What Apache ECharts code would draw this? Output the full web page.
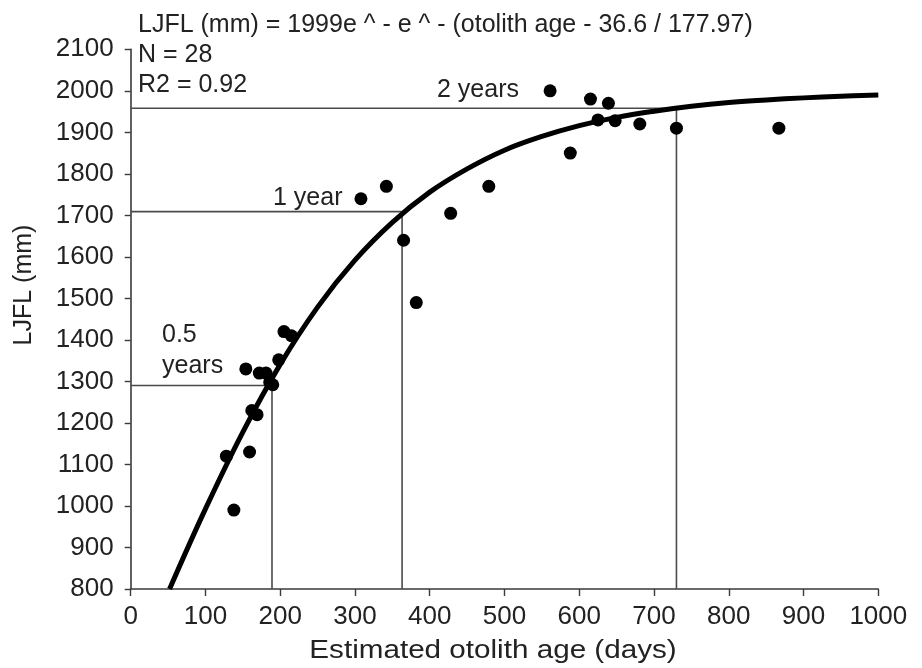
<!DOCTYPE html>
<html><head><meta charset="utf-8">
<script src="https://cdn.jsdelivr.net/npm/echarts@6/dist/echarts.min.js"></script>
<style>html,body{margin:0;padding:0;background:#fff}#c{width:922px;height:668px}</style>
</head><body><div id="c"></div>
<script>
// Observed points: estimated otolith age (days) vs LJFL (mm)
const ageDays = [138,128,159,162,169,154,172,181,190,186,198,205,215,308,342,365,382,428,479,561,588,615,639,625,648,681,730,867];
const ljfl    = [990,1120,1130,1230,1220,1330,1320,1320,1292,1298,1352,1420,1410,1740,1770,1640,1490,1705,1770,2000,1850,1980,1970,1930,1928,1920,1910,1910];
// Fitted curve
const curveAge = [52,100,150,200,250,300,350,400,450,500,550,600,650,700,750,800,850,900,950,1000];
const curveLen = [800,993,1178,1341,1479,1592,1683,1756,1812,1857,1890,1916,1936,1951,1963,1972,1978,1983,1987,1990];
// Reference (age markers) lines
const halfYear = [[0,1290],[189,1290],[189,800]];
const oneYear  = [[0,1709],[363,1709],[363,800]];
const twoYears = [[0,1958],[730,1958],[730,800]];
const xTicks = [0,100,200,300,400,500,600,700,800,900,1000];
const yTicks = [800,900,1000,1100,1200,1300,1400,1500,1600,1700,1800,1900,2000,2100];
const xName = 'Estimated otolith age (days)';
const yName = 'LJFL (mm)';

const FONT = '"Liberation Sans", Arial, sans-serif';
const TXT = '#222';
const chart = echarts.init(document.getElementById('c'), null, {renderer:'canvas'});
const refStyle = {color:'#4a4a4a', width:1.6};
const refSeries = d => ({type:'line', data:d, symbol:'none', lineStyle:refStyle, silent:true, z:1});
const note = (text, left, top) => ({type:'text', left, top, style:{text, font:'25px '+FONT, fill:TXT}});
chart.setOption({
  animation:false,
  backgroundColor:'#fff',
  grid:{left:130.7, right:43.7, top:49.3, bottom:79},
  xAxis:{type:'value', min:xTicks[0], max:xTicks[xTicks.length-1], interval:100,
    axisLine:{onZero:false, lineStyle:{color:'#3a3a3a', width:1.6}},
    axisTick:{length:7, lineStyle:{color:'#3a3a3a', width:1.4}},
    axisLabel:{fontFamily:FONT, fontSize:26, color:TXT, margin:15, formatter:v=>String(v)},
    splitLine:{show:false}},
  yAxis:{type:'value', min:yTicks[0], max:yTicks[yTicks.length-1], interval:100,
    axisLine:{show:true, onZero:false, lineStyle:{color:'#3a3a3a', width:1.6}},
    axisTick:{show:true, length:6, lineStyle:{color:'#3a3a3a', width:1.4}},
    axisLabel:{fontFamily:FONT, fontSize:26, color:TXT, margin:17, formatter:v=>String(v)},
    splitLine:{show:false}},
  series:[
    refSeries(halfYear), refSeries(oneYear), refSeries(twoYears),
    {type:'line', data:curveAge.map((a,i)=>[a,curveLen[i]]), smooth:0.4, symbol:'none',
      lineStyle:{color:'#000', width:5}, z:3},
    {type:'scatter', data:ageDays.map((a,i)=>[a,ljfl[i]]), symbolSize:13,
      itemStyle:{color:'#000', opacity:1}, z:4}
  ],
  graphic:[
    note('LJFL (mm) = 1999e ^ - e ^ - (otolith age - 36.6 / 177.97)', 138, 13),
    note('N = 28', 138, 42.5),
    note('R2 = 0.92', 138, 72.5),
    note('2 years', 437, 77.5),
    note('1 year', 273, 186),
    note('0.5', 162, 322.5),
    note('years', 162, 354),
    {type:'text', x:493, y:651, scaleX:1.14, style:{text:xName, font:'26px '+FONT, fill:TXT, align:'center', verticalAlign:'middle'}},
    {type:'text', x:24, y:285, rotation:Math.PI/2, style:{text:yName, font:'25px '+FONT, fill:TXT, align:'center', verticalAlign:'middle'}}
  ]
});
</script></body></html>
